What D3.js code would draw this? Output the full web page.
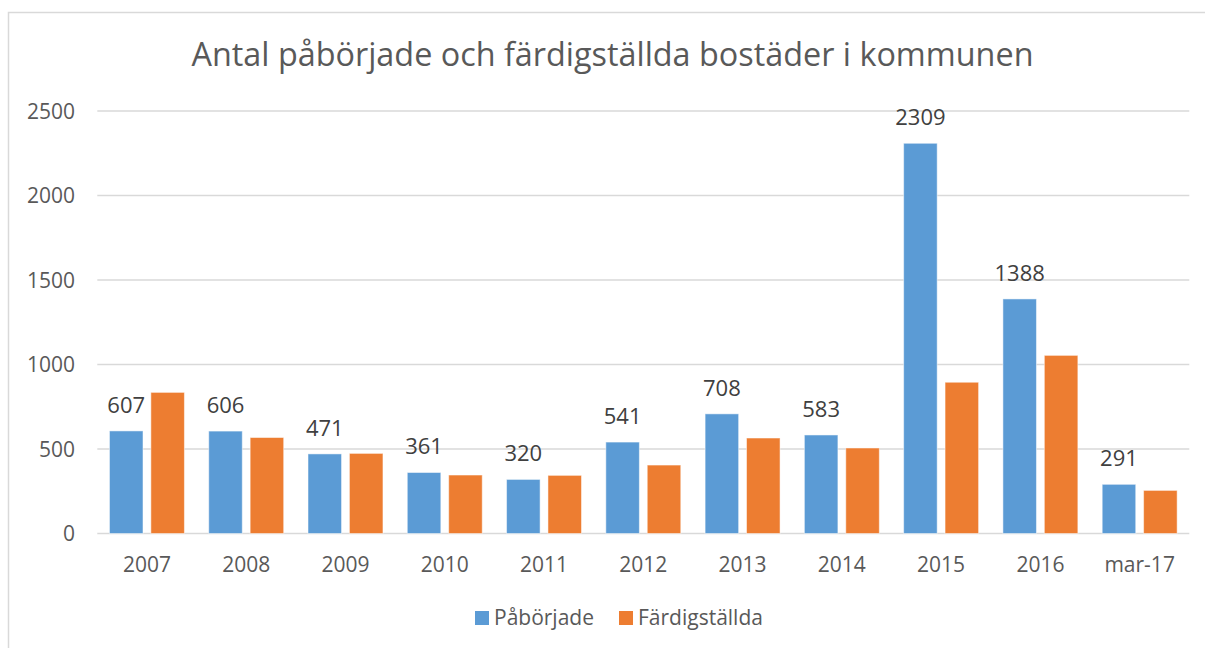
<!DOCTYPE html>
<html lang="sv">
<head>
<meta charset="UTF-8">
<title>Antal påbörjade och färdigställda bostäder</title>
<script src="https://d3js.org/d3.v7.min.js"></script>
<style>
  body { margin: 0; background: #fff; }
  svg { display: block; font-family: "Open Sans", sans-serif; }
</style>
</head>
<body>
<svg id="chart" width="1205" height="648"></svg>
<script>
// data
const categories = ["2007", "2008", "2009", "2010", "2011", "2012", "2013", "2014", "2015", "2016", "mar-17"];
const paborjade = [607, 606, 471, 361, 320, 541, 708, 583, 2309, 1388, 291];
const fardigstallda = [835, 568, 474, 346, 344, 405, 565, 506, 895, 1054, 255];
const seriesNames = ["Påbörjade", "Färdigställda"];
const yTicks = [0, 500, 1000, 1500, 2000, 2500];
const title = "Antal påbörjade och färdigställda bostäder i kommunen";

const colors = { "Påbörjade": "#5B9BD5", "Färdigställda": "#ED7D31" };
const textColor = "#595959";

const svg = d3.select("#chart");

// chart frame (only top and left edges are visible in the crop)
svg.append("rect")
    .attr("x", 8.5).attr("y", 12.5)
    .attr("width", 1300).attr("height", 800)
    .attr("fill", "none")
    .attr("stroke", "#d9d9d9")
    .attr("stroke-width", 1.5);

const plot = { left: 97.3, right: 1189.3, top: 111, bottom: 533.5 };

const x0 = d3.scaleBand()
    .domain(categories)
    .range([plot.left, plot.right])
    .paddingInner(0.245)
    .paddingOuter(0.1225);

const x1 = d3.scaleBand()
    .domain(seriesNames)
    .range([0, x0.bandwidth()])
    .paddingInner(0.19);

const y = d3.scaleLinear()
    .domain([0, 2500])
    .range([plot.bottom, plot.top]);

// gridlines
svg.append("g")
    .selectAll("line")
    .data(yTicks)
    .enter().append("line")
    .attr("x1", plot.left).attr("x2", plot.right)
    .attr("y1", d => y(d)).attr("y2", d => y(d))
    .attr("stroke", "#d9d9d9")
    .attr("stroke-width", 1.5);

// y labels
svg.append("g")
    .selectAll("text")
    .data(yTicks)
    .enter().append("text")
    .attr("x", 75)
    .attr("y", d => y(d) + 7.5)
    .attr("text-anchor", "end")
    .attr("fill", textColor)
    .style("font-size", "21px")
    .text(d => d);

// x labels
svg.append("g")
    .selectAll("text")
    .data(categories)
    .enter().append("text")
    .attr("x", d => x0(d) + x0.bandwidth() / 2)
    .attr("y", 572)
    .attr("text-anchor", "middle")
    .attr("fill", textColor)
    .style("font-size", "21px")
    .text(d => d);

// bars
const rows = categories.map((c, i) => ({
    cat: c,
    values: [
        { name: "Påbörjade", value: paborjade[i] },
        { name: "Färdigställda", value: fardigstallda[i] }
    ]
}));

const groups = svg.append("g")
    .selectAll("g")
    .data(rows)
    .enter().append("g")
    .attr("transform", d => "translate(" + x0(d.cat) + ",0)");

groups.selectAll("rect")
    .data(d => d.values)
    .enter().append("rect")
    .attr("x", d => x1(d.name))
    .attr("y", d => y(d.value))
    .attr("width", x1.bandwidth())
    .attr("height", d => plot.bottom - y(d.value))
    .attr("fill", d => colors[d.name])
    .attr("stroke", "#fff")
    .attr("stroke-opacity", 0.5)
    .attr("stroke-width", 1);

// value labels only for Påbörjade
groups.append("text")
    .attr("x", x1("Påbörjade") + x1.bandwidth() / 2)
    .attr("y", d => y(d.values[0].value) - 18)
    .attr("text-anchor", "middle")
    .attr("fill", "#404040")
    .style("font-size", "22px")
    .text(d => d.values[0].value);

// title, scaled to the width seen in the picture
const t = svg.append("text")
    .attr("x", 612.5)
    .attr("y", 66)
    .attr("text-anchor", "middle")
    .attr("fill", textColor)
    .style("font-size", "30px")
    .text(title);
const tw = t.node().getComputedTextLength();
t.style("font-size", (30 * 842 / tw) + "px");

// legend
const legendX = [475, 619];
const legend = svg.append("g")
    .selectAll("g")
    .data(seriesNames)
    .enter().append("g")
    .attr("transform", (d, i) => "translate(" + legendX[i] + ",611)");

legend.append("rect")
    .attr("width", 14).attr("height", 14)
    .attr("fill", d => colors[d]);

legend.append("text")
    .attr("x", 19)
    .attr("y", 14)
    .attr("fill", textColor)
    .style("font-size", "21px")
    .text(d => d);
</script>
</body>
</html>
